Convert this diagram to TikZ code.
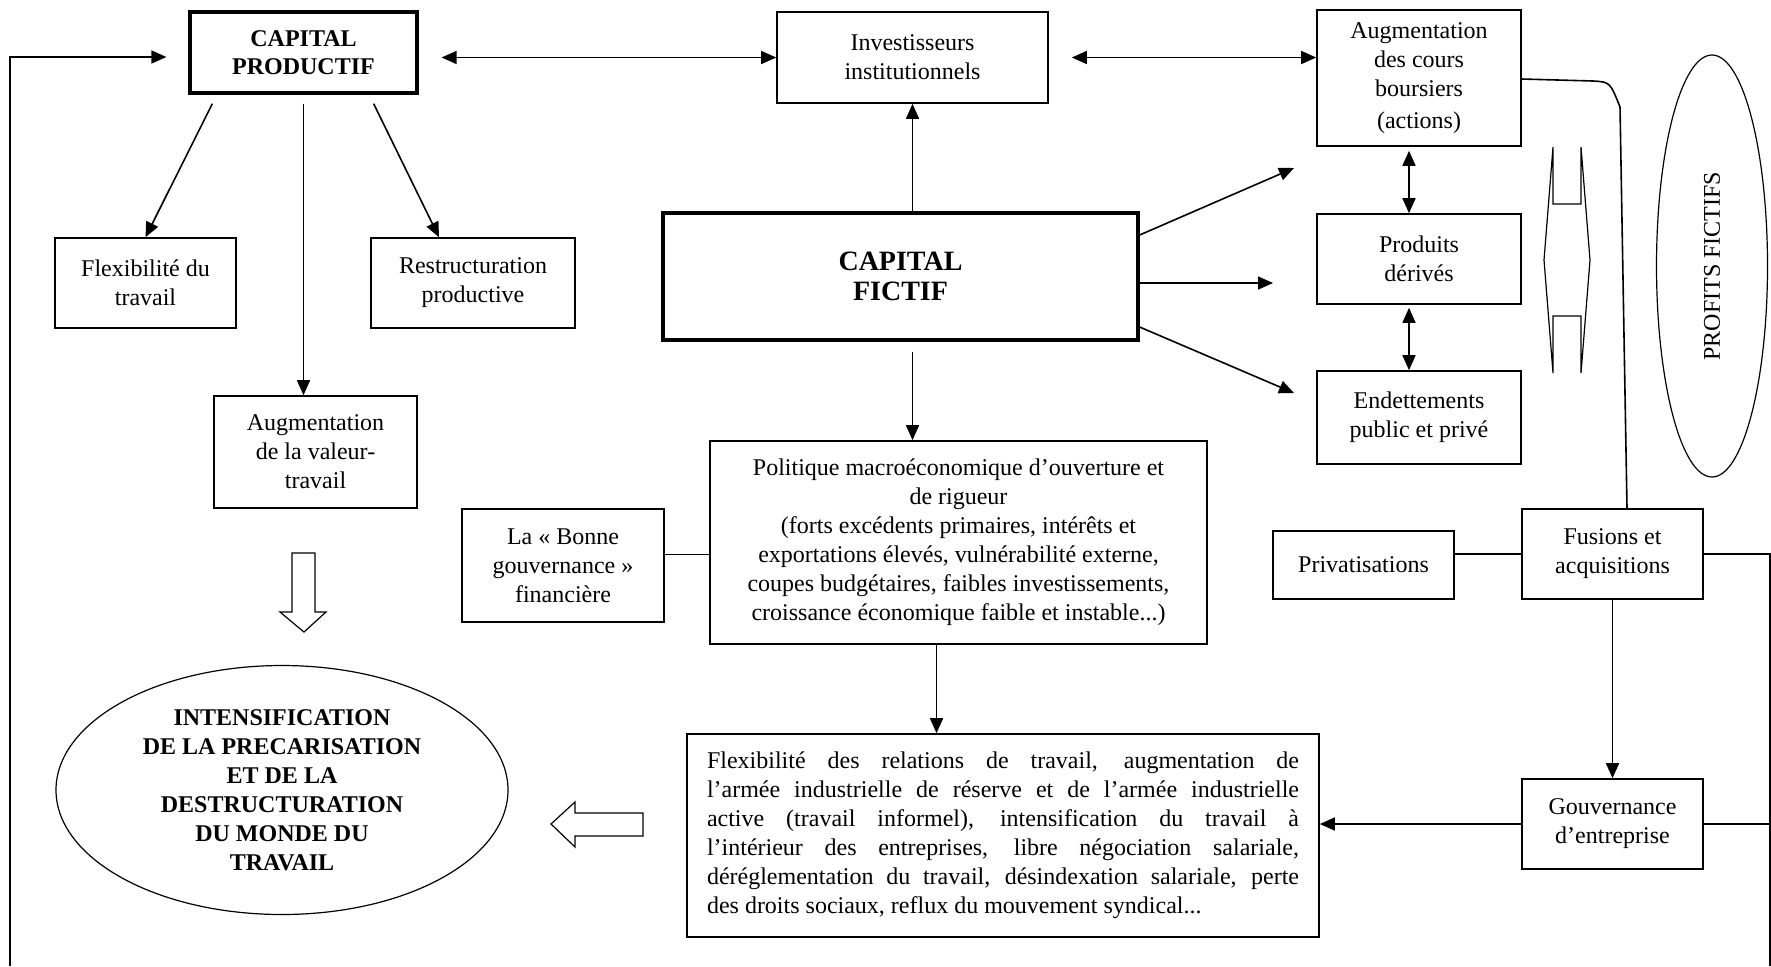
\documentclass[tikz,border=0pt]{standalone}
\usepackage{fontspec}
\setmainfont{Liberation Serif}
\usepackage{tikz}
\usetikzlibrary{calc, arrows.meta, shapes.geometric}

\begin{document}
\begin{tikzpicture}[x=0.5pt,y=-0.5pt,
  >={Triangle[length=7.5pt,width=6.5pt]},
  boite/.style={draw, line width=0.8pt, align=center, inner sep=0pt,
    font=\fontsize{12}{14.5}\selectfont},
  epais/.style={boite, line width=1.6pt},
  fleche/.style={line width=0.8pt},
  creuse/.style={draw, line width=0.6pt, line join=miter}]
\useasboundingbox (0,0) rectangle (1771,966);

% capital productif
\node[epais, minimum width=113.5pt, minimum height=40.5pt, font=\fontsize{12}{14}\selectfont\bfseries] (prod) at (303.5,52.5) {CAPITAL\\PRODUCTIF};
\node[boite, minimum width=90.5pt, minimum height=45pt] (flex) at (145.5,283) {Flexibilité du\\travail};
\node[boite, minimum width=102pt, minimum height=45pt] (restr) at (473,283) {Restructuration\\productive};
\node[boite, minimum width=101.5pt, minimum height=56pt] (valeur) at (315.5,452) {Augmentation\\de la valeur-\\travail};

% capital fictif
\node[boite, minimum width=135.5pt, minimum height=45.5pt] (invest) at (912.5,57.5) {Investisseurs\\institutionnels};
\node[epais, minimum width=237.5pt, minimum height=63.5pt, font=\fontsize{14}{15}\selectfont\bfseries] (fictif) at (900.5,276.5) {CAPITAL\\FICTIF};
\node[boite, minimum width=102pt, minimum height=68pt] (cours) at (1419,78) {Augmentation\\des cours\\boursiers\\[1.5pt](actions)};
\node[boite, minimum width=102pt, minimum height=45pt] (derives) at (1419,259) {Produits\\dérivés};
\node[boite, minimum width=102pt, minimum height=46.5pt] (dettes) at (1419,417.5) {Endettements\\public et privé};
\node[boite, minimum width=248.5pt, minimum height=101.5pt] (politique) at (958.5,542.5) {Politique macroéconomique d’ouverture et\\de rigueur\\(forts excédents primaires, intérêts et\\exportations élevés, vulnérabilité externe,\\coupes budgétaires, faibles investissements,\\croissance économique faible et instable...)};
\node[boite, minimum width=101pt, minimum height=56.5pt] (bonne) at (563,565.5) {La «~Bonne\\gouvernance~»\\financière};
\node[boite, minimum width=90.5pt, minimum height=34pt] (privat) at (1363.5,565) {Privatisations};
\node[boite, minimum width=90.5pt, minimum height=45pt] (fusions) at (1612.5,554) {Fusions et\\acquisitions};
\node[boite, minimum width=90.5pt, minimum height=45pt] (gouv) at (1612.5,824) {Gouvernance\\d’entreprise};
\node[boite, minimum width=316pt, minimum height=101.5pt, text width=296pt, align=justify] (relations) at (1003,835.5) {Flexibilité des relations de travail, augmentation de\linebreak l’armée industrielle de réserve et de l’armée industrielle\linebreak active (travail informel), intensification du travail à\linebreak l’intérieur des entreprises, libre négociation salariale,\linebreak déréglementation du travail, désindexation salariale, perte\linebreak des droits sociaux, reflux du mouvement syndical...};

\node[draw, ellipse, line width=0.6pt, inner sep=0pt, minimum width=226pt, minimum height=124.5pt, align=center, font=\fontsize{12}{14.5}\selectfont\bfseries] (precar) at (282,790) {INTENSIFICATION\\DE LA PRECARISATION\\ET DE LA\\DESTRUCTURATION\\DU MONDE DU\\TRAVAIL};
\node[draw, ellipse, line width=0.6pt, inner sep=0pt, rotate=90, minimum width=211pt, minimum height=55.5pt, font=\fontsize{12}{14.5}\selectfont] (profits) at (1712,266) {PROFITS FICTIFS};

\coordinate (retour gauche) at (10,966);
\coordinate (retour droite) at (1770,966);
\coordinate (vers cours) at (1294,168);
\coordinate (vers derives) at (1273,283);
\coordinate (vers dettes) at (1294,393);

% fleches
\draw[fleche, ->, shorten >=11pt] (retour gauche) |- ([yshift=-2.25pt]prod.west);
\draw[fleche, <->, shorten <=11.5pt] (invest.west -| prod.east) -- (invest.west);
\draw[fleche, <->, shorten <=11.5pt] (invest.east) -- (invest.east -| cours.west);
\draw[fleche, ->] ([xshift=12pt,yshift=-4.5pt]prod.south west) -- (flex.north);
\draw[fleche, ->] ([xshift=-22.5pt,yshift=-4.5pt]prod.south east) -- ([xshift=-17pt]restr.north);
\draw[fleche, ->, shorten <=4.5pt] (prod.south) -- (prod.south |- valeur.north);
\draw[fleche, ->] (invest.south |- fictif.north) -- (invest.south);
\draw[fleche, ->, shorten <=5pt] (fictif.south -| invest.south) -- (invest.south |- politique.north);
\draw[fleche, ->] ([yshift=20.75pt]fictif.east) -- (vers cours);
\draw[fleche, ->] ([yshift=-3.25pt]fictif.east) -- (vers derives);
\draw[fleche, ->] ([yshift=-25.25pt]fictif.east) -- (vers dettes);
\draw[fleche, <->, shorten <=2pt] ([xshift=-5pt]cours.south) -- ([xshift=-5pt]derives.north);
\draw[fleche, <->, shorten <=1.5pt] ([xshift=-5pt]derives.south) -- ([xshift=-5pt]dettes.north);
\draw[fleche] ([yshift=-0.5pt]cours.east) -- (1593,81) .. controls (1610,82) .. (1620,107) -- ([xshift=7.25pt]fusions.north);
\draw[fleche] (privat.east |- fusions.west) -- (fusions.west);
\draw[fleche] ([yshift=5.5pt]bonne.east) -- ([yshift=5.5pt]bonne.east -| politique.west);
\draw[fleche, ->] ([xshift=-11pt]politique.south) -- ([xshift=-11pt]politique.south |- relations.north);
\draw[fleche, ->] (fusions.south) -- (gouv.north);
\draw[fleche, ->] (gouv.west) -- (gouv.west -| relations.east);
\draw[fleche] (fusions.east) -| (retour droite);
\draw[fleche] (gouv.east) -- (gouv.east -| retour droite);

% fleches creuses
\draw[creuse] (292,553) -- (315,553) -- (315,612) -- (326,612) -- (304,632) -- (280,612) -- (292,612) -- cycle;
\draw[creuse] (643,813) -- (643,836) -- (575,836) -- (575,847) -- (551,824) -- (575,802) -- (575,813) -- cycle;
\draw[creuse] (1553,147) -- (1553,204) -- (1581,204) -- (1581,147) -- (1590,260) -- (1581,373) -- (1581,316) -- (1553,316) -- (1553,373) -- (1544,260) -- cycle;
\end{tikzpicture}
\end{document}
